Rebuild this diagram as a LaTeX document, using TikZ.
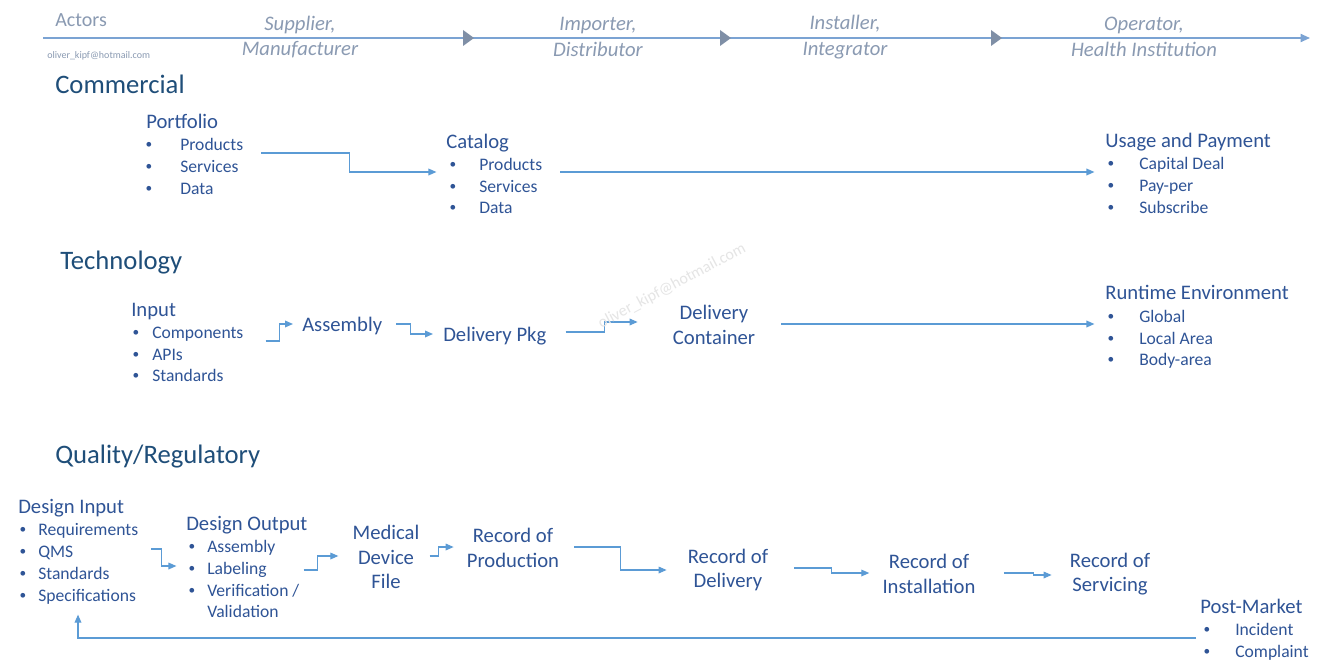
\documentclass[tikz,border=0pt]{standalone}
\usepackage{fontspec}
\setmainfont{Carlito}
\usetikzlibrary{arrows.meta,calc}
\definecolor{hd}{HTML}{1F4E79}
\definecolor{tx}{HTML}{2F5496}
\definecolor{ln}{HTML}{5B9BD5}
\definecolor{ac}{HTML}{8A9AB2}
\definecolor{al}{HTML}{7BA3D3}
\definecolor{mk}{HTML}{7F8FA6}
\begin{document}
\begin{tikzpicture}[x=0.75pt,y=-0.75pt,
  one/.style={anchor=west,inner sep=0,text height=8pt,text depth=0pt},
  heading/.style={one,font=\fontsize{20}{24}\selectfont,text=hd},
  title/.style={one,font=\fontsize{15.5}{18}\selectfont,text=tx},
  item/.style={one,font=\fontsize{13.2}{16}\selectfont,text=tx},
  bul/.style={anchor=center,inner sep=0,font=\fontsize{10}{12}\selectfont,text=tx},
  label/.style={inner sep=0,align=center,font=\fontsize{15.5}{18.5}\selectfont,text=tx},
  actor/.style={inner sep=0,align=center,font=\fontsize{15.5}{19}\selectfont\itshape,text=ac},
  conn/.style={draw=ln,line width=0.9pt,-{Triangle[length=6pt,width=5pt]}},
  marker/.style={fill=mk},
]
\path[use as bounding box,fill=white] (0,0) rectangle (1327,667);

% ---- Actors bar
\node[one,font=\fontsize{15}{18}\selectfont,text=ac] (actors) at (55,21) {Actors};
\node[one,font=\fontsize{7.5}{9}\selectfont,text=ac,text height=4pt] (mail) at (47,56) {oliver\_kipf@hotmail.com};
\coordinate (abeg) at (43,38);
\coordinate (aend) at (1310,38);
\draw[al,line width=1.3pt,-{Triangle[length=7pt,width=6pt]}] (abeg) -- (aend);
\foreach \xx in {463,720,991}{
  \fill[marker] (\xx,30) -- (\xx+11,38) -- (\xx,46) -- cycle;
}
\node[actor] (sup) at (300,37) {Supplier,\\Manufacturer};
\node[actor] (imp) at (598,37) {Importer,\\Distributor};
\node[actor] (ins) at (845,37) {Installer,\\Integrator};
\node[actor] (ope) at (1144,37) {Operator,\\Health Institution};

% ---- Commercial
\node[heading] (hcom) at (55,88) {Commercial};
\node[title] (pf) at (146,123) {Portfolio};
\foreach \yy/\t [count=\i] in {145/Products,167/Services,189/Data}{
  \node[bul] (pfb\i) at (149,\yy) {•};
  \node[item] (pf\i) at (180,\yy) {\t};
}
\node[title] (cat) at (446,143) {Catalog};
\foreach \yy/\t [count=\i] in {165/Products,187/Services,208/Data}{
  \node[bul] (catb\i) at (453,\yy) {•};
  \node[item] (cat\i) at (479,\yy) {\t};
}
\node[title] (uap) at (1105,142) {Usage and Payment};
\foreach \yy/\t [count=\i] in {164/Capital Deal,186/Pay-per,208/Subscribe}{
  \node[bul] (uapb\i) at (1111,\yy) {•};
  \node[item] (uap\i) at (1139,\yy) {\t};
}
\draw[conn] ($(pf1.east)+(18,8)$) -- ++(88,0) |- ($(catb2.west)+(-13,-15)$);
\draw[conn] ($(cat1.east)+(18,7)$) -- ($(uapb1.west)+(-13,8)$);

% ---- Technology
\node[heading] (htec) at (60,264) {Technology};
\node[title] (inp) at (131,311) {Input};
\foreach \yy/\t [count=\i] in {333/Components,355/APIs,376/Standards}{
  \node[bul] (inpb\i) at (136,\yy) {•};
  \node[item] (inp\i) at (152,\yy) {\t};
}
\node[title] (asm) at (302,326) {Assembly};
\node[title] (dpk) at (443,336) {Delivery Pkg};
\node[label] (dct) at (714,325) {Delivery\\Container};
\node[title] (rte) at (1105,294) {Runtime Environment};
\foreach \yy/\t [count=\i] in {317/Global,339/Local Area,360/Body-area}{
  \node[bul] (rteb\i) at (1111,\yy) {•};
  \node[item] (rte\i) at (1139,\yy) {\t};
}
\draw[conn] ($(inp1.east)+(22,8)$) -- ++(14,0) |- ($(asm.west)+(-9,-2)$);
\draw[conn] ($(asm.east)+(14,-2)$) -- ++(14,0) |- ($(dpk.west)+(-10,-2)$);
\draw[conn] ($(dpk.east)+(19,-4)$) -- ++(39,0) |- ($(dct.west)+(-35,-3)$);
\draw[conn] ($(dct.east)+(26,-1)$) -- ($(rteb2.west)+(-13,-15)$);
\node[rotate=28,inner sep=0,font=\fontsize{12}{14}\selectfont,text=black!10] (wm) at (672,286) {oliver\_kipf@hotmail.com};

% ---- Quality / Regulatory
\node[heading] (hqr) at (55,458) {Quality/Regulatory};
\node[title] (din) at (18,508) {Design Input};
\foreach \yy/\t [count=\i] in {530/Requirements,552/QMS,574/Standards,596/Specifications}{
  \node[bul] (dinb\i) at (23,\yy) {•};
  \node[item] (din\i) at (38,\yy) {\t};
}
\node[title] (dou) at (186,525) {Design Output};
\foreach \yy/\t [count=\i] in {547/Assembly,569/Labeling,591/{Verification /}}{
  \node[bul] (doub\i) at (192,\yy) {•};
  \node[item] (dou\i) at (207,\yy) {\t};
}
\node[item] (dou4) at (207,612) {Validation};
\node[label] (mdf) at (386,557) {Medical\\Device\\File};
\node[label] (rop) at (513,548) {Record of\\Production};
\node[label] (rod) at (728,570) {Record of\\Delivery};
\node[label] (roi) at (929,574) {Record of\\Installation};
\node[label] (ros) at (1110,574) {Record of\\Servicing};
\node[title] (pm) at (1200,608) {Post-Market};
\foreach \yy/\t [count=\i] in {630/Incident,652/Complaint}{
  \node[bul] (pmb\i) at (1207,\yy) {•};
  \node[item] (pm\i) at (1235,\yy) {\t};
}
\draw[conn] ($(din1.east)+(13,19)$) -- ++(10,0) |- ($(doub2.west)+(-12,-3)$);
\draw[conn] ($(dou3.east)+(4,-21)$) -- ++(14,0) |- ($(mdf.west)+(-14,-1)$);
\draw[conn] ($(mdf.east)+(10,-1)$) -- ++(9,0) |- ($(rop.west)+(-13,-1)$);
\draw[conn] ($(rop.east)+(15,-1)$) -- ++(46,0) |- ($(rod.west)+(-21,0)$);
\draw[conn] ($(rod.east)+(26,-2)$) -- ++(37,0) |- ($(roi.west)+(-13,-1)$);
\draw[conn] ($(roi.east)+(28,-1)$) -- ++(30,0) |- ($(ros.west)+(-18,1)$);
\draw[conn] ($(pm.west)+(-4,30)$) -| ($(din4.south west)+(40,13)$);
\end{tikzpicture}
\end{document}
